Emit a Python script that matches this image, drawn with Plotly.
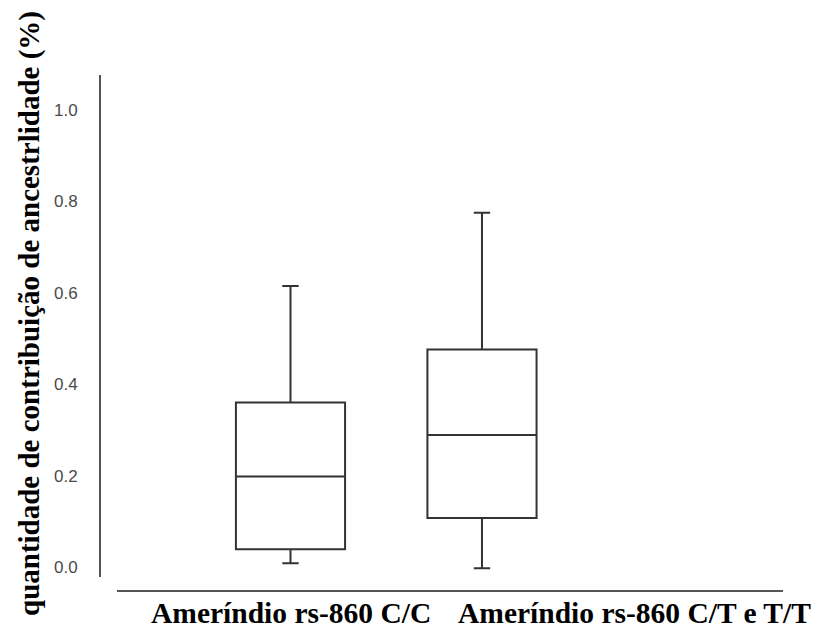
import plotly.graph_objects as go

# Ancestry contribution (Amerindian) by rs-860 genotype
groups = ["Ameríndio rs-860 C/C", "Ameríndio rs-860 C/T e T/T"]
box_pos = [1.0, 2.0]
label_pos = [1.0, 2.795]
q1 = [0.039, 0.107]
median = [0.198, 0.289]
q3 = [0.360, 0.476]
lower = [0.008, -0.003]
upper = [0.615, 0.775]

y_ticks = [0.0, 0.2, 0.4, 0.6, 0.8, 1.0]
y_ticktext = ["0.0", "0.2", "0.4", "0.6", "0.8", "1.0"]

fig = go.Figure()
fig.add_trace(go.Box(
    x=box_pos,
    q1=q1, median=median, q3=q3,
    lowerfence=lower, upperfence=upper,
    width=0.57,
    whiskerwidth=0.15,
    fillcolor="white",
    line=dict(color="#333333", width=2),
    boxpoints=False,
    hoverinfo="skip",
    showlegend=False,
))

W, H = 816, 628
left, right, top, bottom = 101, 783, 75, 577

fig.update_layout(
    width=W, height=H,
    margin=dict(l=left, r=W - right, t=top, b=H - bottom, pad=0),
    paper_bgcolor="white",
    plot_bgcolor="white",
    xaxis=dict(
        range=[0.0104, 3.572],
        showgrid=False, zeroline=False, showline=False,
        showticklabels=False, ticks="",
    ),
    yaxis=dict(
        range=[-0.0219, 1.0766],
        tickvals=y_ticks, ticktext=y_ticktext,
        showgrid=False, zeroline=False,
        showline=True, linecolor="#555555", linewidth=2,
        ticks="", ticklabelstandoff=18,
        tickfont=dict(family="Liberation Sans, Arial, sans-serif", size=17, color="#4a4a4a"),
    ),
    shapes=[
        # detached category axis baseline
        dict(type="line", xref="paper", yref="paper",
             x0=(117 - left) / (right - left), x1=1.0,
             y0=-(591 - bottom) / (bottom - top), y1=-(591 - bottom) / (bottom - top),
             line=dict(color="#555555", width=2)),
    ],
)

# category labels under the axis
for g, xp in zip(groups, label_pos):
    fig.add_annotation(
        x=xp, xref="x",
        y=-(613 - bottom) / (bottom - top), yref="paper",
        text=f"<b>{g}</b>", showarrow=False,
        xanchor="center", yanchor="middle",
        font=dict(family="Liberation Serif, Times New Roman, serif", size=29.5, color="black"),
    )

# y axis title (pixel position converted to paper coordinates)
title_x, title_y = 29, 314
fig.add_annotation(
    x=(title_x - left) / (right - left), xref="paper", xanchor="center",
    y=(bottom - title_y) / (bottom - top), yref="paper", yanchor="middle",
    text="<b>quantidade de contribuição de ancestrlidade (%)</b>",
    textangle=-90, showarrow=False,
    font=dict(family="Liberation Serif, Times New Roman, serif", size=29, color="black"),
)

fig.write_html("out.html")
